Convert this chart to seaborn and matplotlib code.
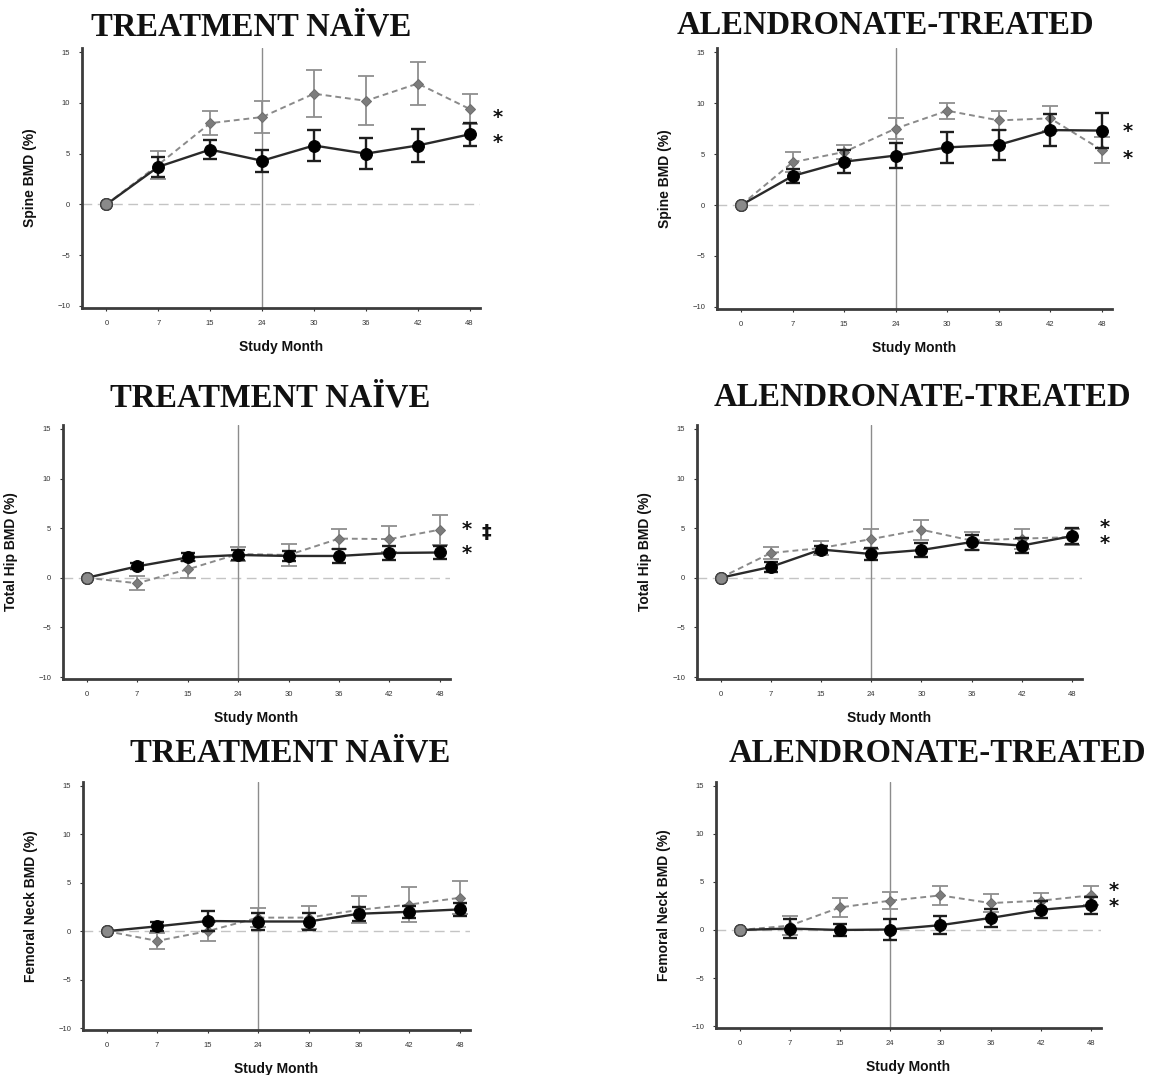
import matplotlib
matplotlib.use("Agg")
import matplotlib.pyplot as plt
import numpy as np
import pandas as pd
import seaborn as sns

# x categories and axis text
months = ["0", "7", "15", "24", "30", "36", "42", "48"]
y_ticks = [-10, -5, 0, 5, 10, 15]
group_titles = ["TREATMENT NAÏVE", "ALENDRONATE-TREATED"]
site_labels = ["Spine BMD (%)", "Total Hip BMD (%)", "Femoral Neck BMD (%)"]

# spine, treatment naive
spine_naive_solid = [0, 3.7, 5.4, 4.3, 5.8, 5.0, 5.8, 6.9]
spine_naive_solid_err = [0, 1.0, 0.9, 1.1, 1.5, 1.5, 1.6, 1.1]
spine_naive_dashed = [0, 3.9, 8.0, 8.6, 10.9, 10.2, 11.9, 9.4]
spine_naive_dashed_err = [0, 1.4, 1.2, 1.6, 2.3, 2.4, 2.1, 1.5]
spine_naive_marks = ["*", "*"]
spine_naive_mark_y = [8.6, 6.1]

# spine, alendronate treated
spine_aln_solid = [0, 2.85, 4.25, 4.85, 5.65, 5.9, 7.35, 7.3]
spine_aln_solid_err = [0, 0.7, 1.1, 1.2, 1.5, 1.5, 1.6, 1.7]
spine_aln_dashed = [0, 4.2, 5.2, 7.5, 9.25, 8.3, 8.5, 5.4]
spine_aln_dashed_err = [0, 1.0, 0.7, 1.0, 0.8, 0.9, 1.2, 1.3]
spine_aln_marks = ["*", "*"]
spine_aln_mark_y = [7.2, 4.6]

# total hip, treatment naive
hip_naive_solid = [0, 1.15, 2.05, 2.3, 2.2, 2.2, 2.5, 2.55]
hip_naive_solid_err = [0, 0.3, 0.4, 0.5, 0.5, 0.7, 0.7, 0.7]
hip_naive_dashed = [0, -0.55, 0.85, 2.4, 2.3, 3.95, 3.9, 4.85]
hip_naive_dashed_err = [0, 0.7, 0.85, 0.7, 1.1, 1.0, 1.3, 1.5]
hip_naive_marks = ["*", "‡", "*"]
hip_naive_mark_y = [4.9, 4.6, 2.4]

# total hip, alendronate treated
hip_aln_solid = [0, 1.1, 2.85, 2.4, 2.8, 3.6, 3.25, 4.2]
hip_aln_solid_err = [0, 0.5, 0.4, 0.6, 0.7, 0.75, 0.8, 0.8]
hip_aln_dashed = [0, 2.5, 3.0, 3.9, 4.85, 3.75, 3.95, 4.1]
hip_aln_dashed_err = [0, 0.6, 0.7, 1.0, 1.0, 0.9, 1.0, 0.8]
hip_aln_marks = ["*\n*"]
hip_aln_mark_y = [4.3]

# femoral neck, treatment naive
neck_naive_solid = [0, 0.5, 1.05, 1.0, 1.0, 1.8, 2.0, 2.25]
neck_naive_solid_err = [0, 0.5, 1.0, 0.9, 0.9, 0.7, 0.6, 0.7]
neck_naive_dashed = [0, -1.0, 0.0, 1.4, 1.4, 2.2, 2.75, 3.45]
neck_naive_dashed_err = [0, 0.8, 1.0, 1.0, 1.2, 1.4, 1.8, 1.7]
neck_naive_marks = []
neck_naive_mark_y = []

# femoral neck, alendronate treated
neck_aln_solid = [0, 0.15, 0.0, 0.05, 0.5, 1.25, 2.1, 2.55]
neck_aln_solid_err = [0, 1.0, 0.6, 1.1, 0.95, 0.95, 0.9, 0.85]
neck_aln_dashed = [0, 0.45, 2.35, 3.05, 3.6, 2.8, 3.05, 3.6]
neck_aln_dashed_err = [0, 1.0, 1.0, 0.9, 0.95, 0.9, 0.85, 1.0]
neck_aln_marks = ["*\n*"]
neck_aln_mark_y = [3.3]

W, H = 1157, 1075

sns.set_theme(style="white")
plt.rcParams["font.family"] = ["Liberation Sans", "DejaVu Sans"]


def draw_panel(ax, solid, solid_err, dashed, dashed_err, ylabel):
    df = pd.DataFrame({
        "pos": np.arange(len(months)),
        "solid": solid,
        "solid_err": solid_err,
        "dashed": dashed,
        "dashed_err": dashed_err,
    })
    later = df.iloc[1:]

    ax.axhline(0, color="#c4c4c4", lw=1.0, ls=(0, (7, 4)), zorder=1)
    ax.axvline(3, color="#8c8c8c", lw=1.0, zorder=1)

    ax.errorbar(later["pos"], later["dashed"], yerr=later["dashed_err"], fmt="none",
                ecolor="#8f8f8f", elinewidth=1.3, capsize=6, capthick=1.3, zorder=2)
    sns.lineplot(data=df, x="pos", y="dashed", ax=ax, color="#8a8a8a", lw=1.4,
                 linestyle=(0, (3, 2)), marker="D", markersize=5.5,
                 markeredgecolor="#6e6e6e", markerfacecolor="#7c7c7c", zorder=3)
    ax.errorbar(later["pos"], later["solid"], yerr=later["solid_err"], fmt="none",
                ecolor="#1e1e1e", elinewidth=1.7, capsize=5, capthick=1.7, zorder=4)
    sns.lineplot(data=df, x="pos", y="solid", ax=ax, color="#2a2a2a", lw=1.7,
                 marker="o", markersize=8.5, markeredgecolor="#000000",
                 markerfacecolor="#000000", zorder=5)
    sns.scatterplot(data=df.iloc[:1], x="pos", y="solid", ax=ax, color="#8a8a8a",
                    edgecolor="#444444", linewidth=1.0, s=70, zorder=6)

    ax.set_xlim(-0.47, 7.2)
    ax.set_ylim(-10.2, 15.4)
    ax.set_xticks(df["pos"])
    ax.set_xticklabels(months)
    ax.set_yticks(y_ticks)
    ax.set_yticklabels([str(v) if v >= 0 else "\u2212" + str(-v) for v in y_ticks])
    ax.tick_params(axis="both", labelsize=5.5, length=2.5, width=0.8, pad=6,
                   colors="#333333", left=True, bottom=True)
    ax.set_ylabel(ylabel, fontsize=10, color="#111111", fontweight="bold")
    ax.set_xlabel("Study Month", fontsize=10, color="#111111", fontweight="bold")
    sns.despine(ax=ax)
    for side in ["left", "bottom"]:
        ax.spines[side].set_color("#3c3c3c")
        ax.spines[side].set_linewidth(2.0)


fig = plt.figure(figsize=(W / 100, H / 100), dpi=100)

panels = [
    (spine_naive_solid, spine_naive_solid_err, spine_naive_dashed, spine_naive_dashed_err,
     site_labels[0], group_titles[0], spine_naive_marks, spine_naive_mark_y),
    (spine_aln_solid, spine_aln_solid_err, spine_aln_dashed, spine_aln_dashed_err,
     site_labels[0], group_titles[1], spine_aln_marks, spine_aln_mark_y),
    (hip_naive_solid, hip_naive_solid_err, hip_naive_dashed, hip_naive_dashed_err,
     site_labels[1], group_titles[0], hip_naive_marks, hip_naive_mark_y),
    (hip_aln_solid, hip_aln_solid_err, hip_aln_dashed, hip_aln_dashed_err,
     site_labels[1], group_titles[1], hip_aln_marks, hip_aln_mark_y),
    (neck_naive_solid, neck_naive_solid_err, neck_naive_dashed, neck_naive_dashed_err,
     site_labels[2], group_titles[0], neck_naive_marks, neck_naive_mark_y),
    (neck_aln_solid, neck_aln_solid_err, neck_aln_dashed, neck_aln_dashed_err,
     site_labels[2], group_titles[1], neck_aln_marks, neck_aln_mark_y),
]

# pixel boxes (left, right, top, bottom), title centres and mark x per panel
boxes = [(82, 480, 48, 308), (717, 1112, 48, 309), (63, 450, 425, 679),
         (697, 1082, 425, 679), (83, 470, 782, 1030), (716, 1101, 782, 1028)]
title_pos = [(251, 27), (885, 26), (270, 398), (922, 398), (290, 753), (937, 753)]
mark_xs = [7.54, 7.5, 7.53, 7.65, 7.5, 7.46]
dagger_x = 7.92

for i, (solid, serr, dashed, derr, ylab, title, marks, mark_y) in enumerate(panels):
    l, r, t, b = boxes[i]
    ax = fig.add_axes([l / W, 1 - b / H, (r - l) / W, (b - t) / H])
    draw_panel(ax, solid, serr, dashed, derr, ylab)
    for label, yv in zip(marks, mark_y):
        xv = dagger_x if label == "‡" else mark_xs[i]
        ax.text(xv, yv, label, fontsize=14, fontweight="bold", ha="center",
                va="center", color="#111111", clip_on=False, linespacing=0.8,
                family=["DejaVu Sans"])
    ax.yaxis.set_label_coords(-45 / (r - l), 0.5)
    ax.xaxis.set_label_coords(0.5, -32 / (b - t))
    tx, ty = title_pos[i]
    fig.text(tx / W, 1 - ty / H, title, ha="center", va="center", fontsize=23.5,
             fontweight="bold", family=["Liberation Serif", "DejaVu Serif"], color="#111111")

fig.savefig("out.png", dpi=100)
